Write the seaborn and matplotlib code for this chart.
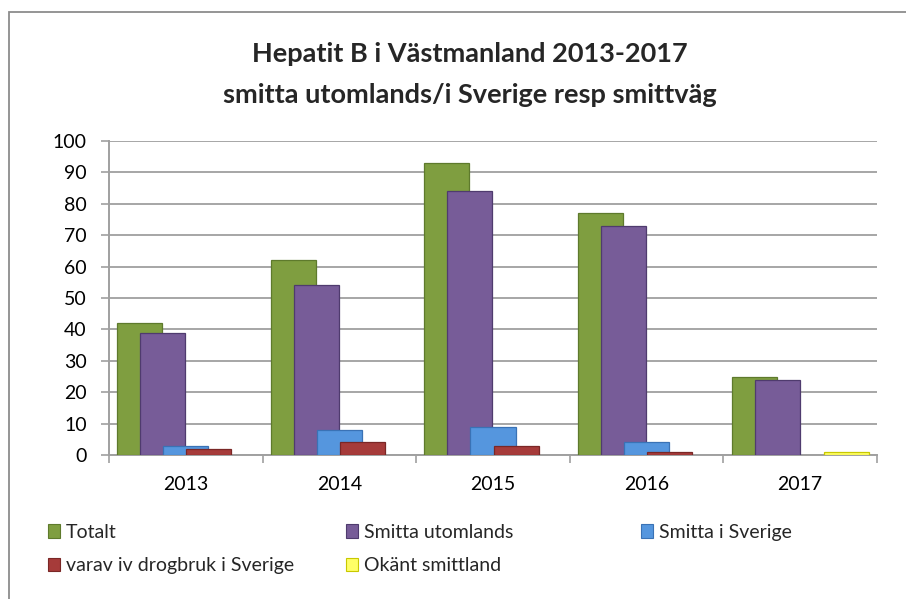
import numpy as np
import matplotlib
matplotlib.use("Agg")
import matplotlib.pyplot as plt
import seaborn as sns
from matplotlib.patches import Rectangle, Patch

# Data
years = ["2013", "2014", "2015", "2016", "2017"]
totalt = [42, 62, 93, 77, 25]
smitta_utomlands = [39, 54, 84, 73, 24]
smitta_sverige = [3, 8, 9, 4, 0]
varav_iv = [2, 4, 3, 1, 0]
okant = [0, 0, 0, 0, 1]

series_names = ["Totalt", "Smitta utomlands", "Smitta i Sverige",
                "varav iv drogbruk i Sverige", "Okänt smittland"]
series_values = [totalt, smitta_utomlands, smitta_sverige, varav_iv, okant]
face_colors = ["#7f9e40", "#775c98", "#5596de", "#a63b3a", "#ffff66"]
edge_colors = ["#5e7a2c", "#4f3b6e", "#3a72b5", "#7a2726", "#c8c800"]

sns.set_theme(style="white")
plt.rcParams["font.family"] = ["Lato", "DejaVu Sans"]

fig = plt.figure(figsize=(9.06, 5.99), dpi=100)
ax = fig.add_axes([109 / 906, 1 - 455 / 599, (877 - 109) / 906, (455 - 141) / 599])

step = 0.15
bar_w = 0.293
base = np.arange(len(years))
for i, (name, vals) in enumerate(zip(series_names, series_values)):
    v = np.array(vals, dtype=float)
    v[v == 0] = np.nan
    sns.barplot(x=base + (i - 2) * step, y=v, native_scale=True, width=bar_w,
                color=face_colors[i], edgecolor=edge_colors[i], linewidth=0.9,
                saturation=1, ax=ax, zorder=3 + i)

ax.set_xlim(-0.5, len(years) - 0.5)
ax.set_ylim(0, 100)
ax.set_yticks(np.arange(0, 101, 10))
ax.set_xticks(base)
ax.set_xticklabels(years)
ax.set_xticks(np.arange(-0.5, len(years), 1), minor=True)
ax.set_xlabel("")
ax.set_ylabel("")
ax.yaxis.grid(True, color="#a6a6a6", linewidth=1.4)
ax.set_axisbelow(True)

for s in ["top", "right"]:
    ax.spines[s].set_visible(False)
for s in ["left", "bottom"]:
    ax.spines[s].set_color("#a0a0a0")
    ax.spines[s].set_linewidth(1.4)

ax.tick_params(axis="y", which="major", length=6, width=1.2, color="#a0a0a0",
               direction="out", left=True, labelsize=14, pad=10, labelcolor="black")
ax.tick_params(axis="x", which="major", length=0, labelsize=14, pad=15, labelcolor="black")
ax.tick_params(axis="x", which="minor", length=6, width=1.2, color="#a0a0a0",
               direction="out", bottom=True)

# title
fig.text(470 / 906, 1 - 54 / 599, "Hepatit B i Västmanland 2013-2017",
         ha="center", va="center", fontsize=19.5, fontweight="bold")
fig.text(470 / 906, 1 - 95 / 599, "smitta utomlands/i Sverige resp smittväg",
         ha="center", va="center", fontsize=19.5, fontweight="bold")

# legend in three columns like the original
handles = [Patch(facecolor=face_colors[i], edgecolor=edge_colors[i], linewidth=0.8)
           for i in range(len(series_names))]
columns = [([0, 3], 40), ([1, 4], 338), ([2], 633)]
for idx, xpx in columns:
    leg = fig.legend([handles[j] for j in idx], [series_names[j] for j in idx],
                     loc="upper left", bbox_to_anchor=(xpx / 906, 1 - 516 / 599),
                     frameon=False, fontsize=14, handlelength=0.65, handleheight=0.7,
                     handletextpad=0.3, labelspacing=0.85, borderaxespad=0)

# outer chart border
fig.patches.append(Rectangle((9 / 906, -0.1), 1.2, 1 - 12 / 599 + 0.1,
                             transform=fig.transFigure, fill=False,
                             edgecolor="#8c8c8c", linewidth=1.3))

fig.savefig("out.png", dpi=100)
